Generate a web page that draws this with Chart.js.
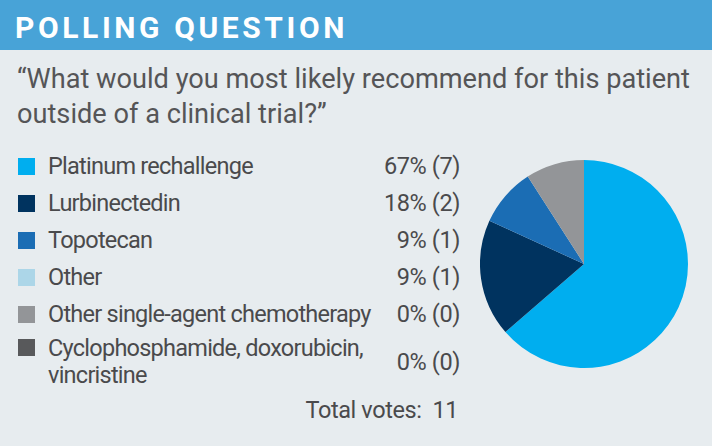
<!DOCTYPE html>
<html>
<head>
<meta charset="utf-8">
<script src="https://cdn.jsdelivr.net/npm/chart.js@4"></script>
<style>
  html, body { margin: 0; padding: 0; }
  #card { position: relative; width: 712px; height: 446px; background: #e7ecef; overflow: hidden; color: #4a4a4c; }
  #head { height: 50px; background: #48a3d7; }
  #head span { position: absolute; left: 15px; top: 10px; font: bold 30px Roboto, sans-serif; letter-spacing: 3.6px; color: #fff; }
  #question { position: absolute; left: 17px; top: 61px; font: 28px Roboto, sans-serif; line-height: 35px; color: #555557; transform-origin: 0 0; white-space: nowrap; }
  #legend { position: absolute; left: 18px; top: 148px; width: 442px; font: 23.5px Roboto, sans-serif; border-collapse: collapse; }
  #legend td { padding: 0; vertical-align: middle; line-height: 25px; }
  #legend td.txt { letter-spacing: -0.75px; }
  #legend tr { height: 37px; }
  #legend tr.two td.txt { line-height: 27.5px; }
  #legend .sw { width: 30px; }
  #legend .sw div { width: 17px; height: 17px; }
  #legend .val { text-align: right; white-space: nowrap; letter-spacing: -0.4px; }
  #total { position: absolute; right: 254px; top: 396px; font: 23.5px Roboto, sans-serif; letter-spacing: -0.4px; white-space: pre; }
  #pieWrap { position: absolute; left: 480px; top: 160px; width: 208px; height: 208px; }
</style>
</head>
<body>
<div id="card">
  <div id="head"><span>POLLING QUESTION</span></div>
  <div id="question"><div>“What would you most likely recommend for this patient</div><div>outside of a clinical trial?”</div></div>
  <table id="legend"></table>
  <div id="total"></div>
  <div id="pieWrap"><canvas id="pieChart"></canvas></div>
</div>
<script>
const categories = [
  "Platinum rechallenge",
  "Lurbinectedin",
  "Topotecan",
  "Other",
  "Other single-agent chemotherapy",
  "Cyclophosphamide, doxorubicin, vincristine",
];
const votes = [7, 2, 1, 1, 0, 0];
const percents = [67, 18, 9, 9, 0, 0];
const legendColors = ["#00aeef", "#00335f", "#1b6db4", "#acd6e8", "#939598", "#58595b"];
const sliceColors = ["#00aeef", "#00335f", "#1b6db4", "#939598", "#939598", "#58595b"];
const totalVotes = 11;

// squeeze the question to the narrow width of the original
const q = document.getElementById("question");
const firstLine = q.firstElementChild;
const w = firstLine.getBoundingClientRect().width;
q.style.transform = `scaleX(${673 / w})`;

const legend = document.getElementById("legend");
categories.forEach((name, i) => {
  const tr = document.createElement("tr");
  const label = name.replace("doxorubicin, ", "doxorubicin,<br>");
  tr.innerHTML =
    `<td class="sw"><div style="background:${legendColors[i]}"></div></td>` +
    `<td class="txt">${label}</td>` +
    `<td class="val">${percents[i]}% (${votes[i]})</td>`;
  if (i === categories.length - 1) {
    tr.className = "two";
    tr.style.height = "58px";
    tr.firstChild.style.verticalAlign = "top";
    tr.firstChild.style.paddingTop = "6px";
  }
  legend.appendChild(tr);
});
document.getElementById("total").textContent = `Total votes:  ${totalVotes}`;

const ctx = document.getElementById("pieChart").getContext("2d");
const pieChart = new Chart(ctx, {
  type: "pie",
  data: {
    labels: categories,
    datasets: [
      {
        data: votes,
        backgroundColor: sliceColors,
        borderWidth: 0,
      },
    ],
  },
  options: {
    responsive: true,
    maintainAspectRatio: true,
    animation: false,
    layout: { padding: 0 },
    plugins: {
      legend: { display: false },
      tooltip: { enabled: false },
    },
  },
});
</script>
</body>
</html>
